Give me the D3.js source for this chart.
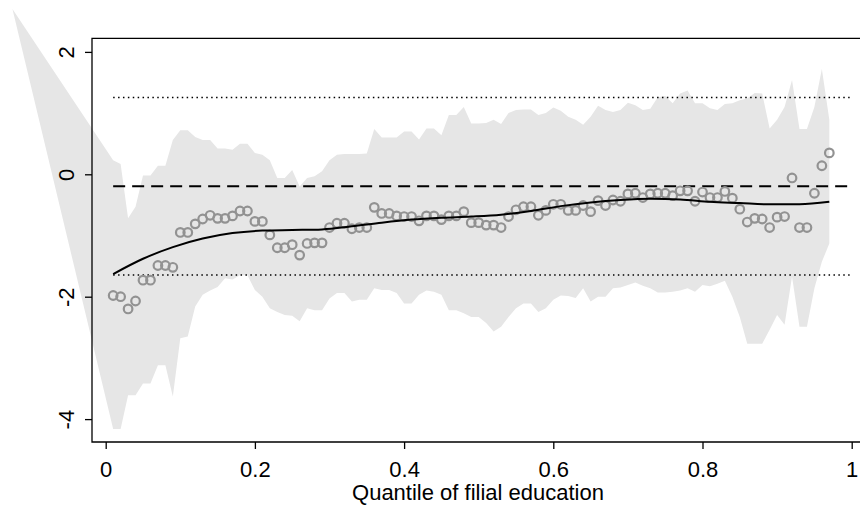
<!DOCTYPE html>
<html>
<head>
<meta charset="utf-8">
<script src="https://cdn.jsdelivr.net/npm/d3@7"></script>
<style>
  html, body { margin: 0; padding: 0; background: #fff; overflow: hidden; }
  svg { display: block; }
  text { font-family: "Liberation Sans", Arial, Helvetica, sans-serif; fill: #000; }
</style>
</head>
<body>
<script>
// Quantile grid of filial education
const quantiles = [
  0.01,0.02,0.03,0.04,0.05,0.06,0.07,0.08,0.09,0.10,
  0.11,0.12,0.13,0.14,0.15,0.16,0.17,0.18,0.19,0.20,
  0.21,0.22,0.23,0.24,0.25,0.26,0.27,0.28,0.29,0.30,
  0.31,0.32,0.33,0.34,0.35,0.36,0.37,0.38,0.39,0.40,
  0.41,0.42,0.43,0.44,0.45,0.46,0.47,0.48,0.49,0.50,
  0.51,0.52,0.53,0.54,0.55,0.56,0.57,0.58,0.59,0.60,
  0.61,0.62,0.63,0.64,0.65,0.66,0.67,0.68,0.69,0.70,
  0.71,0.72,0.73,0.74,0.75,0.76,0.77,0.78,0.79,0.80,
  0.81,0.82,0.83,0.84,0.85,0.86,0.87,0.88,0.89,0.90,
  0.91,0.92,0.93,0.94,0.95,0.96,0.97
];

// Quantile regression coefficient at each quantile
const coefficient = [
  -1.98,-2.00,-2.20,-2.07,-1.73,-1.73,-1.49,-1.49,-1.52,-0.95,
  -0.95,-0.81,-0.73,-0.67,-0.72,-0.72,-0.68,-0.60,-0.60,-0.77,
  -0.77,-0.99,-1.20,-1.20,-1.15,-1.32,-1.13,-1.12,-1.12,-0.87,
  -0.80,-0.80,-0.89,-0.87,-0.87,-0.54,-0.64,-0.64,-0.68,-0.69,
  -0.69,-0.76,-0.68,-0.68,-0.74,-0.68,-0.68,-0.61,-0.79,-0.79,
  -0.83,-0.83,-0.87,-0.69,-0.58,-0.53,-0.53,-0.67,-0.59,-0.49,
  -0.49,-0.59,-0.59,-0.51,-0.61,-0.43,-0.51,-0.42,-0.44,-0.32,
  -0.31,-0.38,-0.32,-0.31,-0.31,-0.35,-0.27,-0.27,-0.44,-0.29,
  -0.38,-0.38,-0.28,-0.39,-0.57,-0.78,-0.72,-0.73,-0.87,-0.70,
  -0.69,-0.06,-0.87,-0.87,-0.31,0.14,0.35
];

// Confidence band, upper bound
const ciUpper = [
  0.23,0.17,-0.72,-0.53,-0.02,-0.02,0.14,0.14,0.56,0.72,
  0.72,0.61,0.56,0.56,0.42,0.42,0.40,0.50,0.50,0.35,
  0.32,0.23,-0.06,-0.06,0.07,-0.20,-0.06,-0.03,0.05,0.23,
  0.32,0.33,0.33,0.33,0.34,0.74,0.60,0.60,0.60,0.70,
  0.70,0.57,0.75,0.75,0.64,0.97,0.97,1.10,0.83,0.83,
  0.84,0.89,0.82,1.00,1.05,1.06,1.06,0.97,1.00,1.09,
  1.04,0.94,0.89,0.81,0.94,1.12,1.05,1.02,1.05,1.17,
  1.13,1.05,1.07,1.26,1.28,1.16,1.32,1.37,1.16,1.16,
  1.08,1.05,1.15,1.16,1.21,1.24,1.33,1.32,0.75,0.89,
  1.10,1.54,0.74,0.74,1.10,1.72,0.89
];

// Confidence band, lower bound
const ciLower = [
  -4.16,-4.16,-3.61,-3.61,-3.42,-3.42,-3.12,-3.12,-3.63,-2.68,
  -2.65,-2.16,-1.97,-1.90,-1.84,-1.70,-1.72,-1.65,-1.65,-1.89,
  -2.00,-2.19,-2.25,-2.30,-2.31,-2.40,-2.19,-2.22,-2.22,-2.03,
  -1.94,-1.94,-2.08,-2.05,-2.05,-1.86,-1.89,-1.89,-1.94,-2.11,
  -2.11,-1.97,-1.90,-1.92,-1.97,-2.22,-2.22,-2.27,-2.33,-2.33,
  -2.43,-2.57,-2.49,-2.33,-2.19,-2.11,-2.11,-2.25,-2.19,-2.05,
  -1.98,-1.99,-2.02,-1.86,-2.08,-2.00,-2.00,-1.86,-1.85,-1.81,
  -1.77,-1.82,-1.86,-1.93,-1.93,-1.92,-1.90,-1.86,-1.92,-1.81,
  -1.83,-1.79,-1.74,-2.00,-2.33,-2.77,-2.77,-2.77,-2.54,-2.30,
  -2.46,-1.67,-2.49,-2.49,-1.86,-1.43,-1.13
];

// Extra vertex that opens the band polygon
const bandStart = [-0.125, 2.70];

// Smoothed coefficient curve
const smoothQ = [0.01,0.05,0.09,0.13,0.17,0.21,0.25,0.29,0.33,0.37,0.41,0.45,0.49,
                 0.53,0.57,0.61,0.65,0.69,0.73,0.77,0.81,0.85,0.89,0.93,0.97];
const smoothV = [-1.63,-1.38,-1.19,-1.05,-0.96,-0.92,-0.91,-0.90,-0.85,-0.79,-0.74,-0.71,-0.69,
                 -0.66,-0.60,-0.52,-0.46,-0.42,-0.40,-0.41,-0.45,-0.47,-0.49,-0.49,-0.45];

// OLS estimate and its confidence limits
const olsLines = [-0.195, 1.255, -1.645];
const olsSpan = [0.01, 1.0];

// Axis ticks
const xTicks = [0, 0.2, 0.4, 0.6, 0.8, 1];
const xTickLabels = ["0", "0.2", "0.4", "0.6", "0.8", "1"];
const yTicks = [-4, -2, 0, 2];
const yTickLabels = ["-4", "-2", "0", "2"];
const xTitle = "Quantile of filial education";

const W = 860, H = 505;
const plot = { left: 92, right: 864, top: 38.3, bottom: 442 };
const fontSize = "22px";

const svg = d3.select("body").append("svg").attr("width", W).attr("height", H);

const x = d3.scaleLinear().domain([0, 1]).range([105.7, 851.7]);
const y = d3.scaleLinear().domain([-4, 2]).range([419.1, 51.9]);

// Confidence band
const bandPts = [bandStart]
  .concat(quantiles.map((q, i) => [q, ciUpper[i]]))
  .concat(quantiles.map((q, i) => [q, ciLower[i]]).reverse());
svg.append("path")
  .attr("d", d3.line().x(d => x(d[0])).y(d => y(d[1]))(bandPts) + "Z")
  .attr("fill", "#e6e6e6")
  .attr("stroke", "none");

// OLS reference lines
olsLines.forEach((v, i) => {
  svg.append("line")
    .attr("x1", x(olsSpan[0])).attr("x2", x(olsSpan[1]))
    .attr("y1", y(v)).attr("y2", y(v))
    .attr("stroke", "#000")
    .attr("stroke-width", i === 0 ? 2 : 1.5)
    .attr("stroke-dasharray", i === 0 ? "12,7" : "1.5,3.4");
});

// Coefficient points
svg.append("g").selectAll("circle")
  .data(quantiles)
  .join("circle")
  .attr("cx", d => x(d))
  .attr("cy", (d, i) => y(coefficient[i]))
  .attr("r", 4.3)
  .attr("fill", "none")
  .attr("stroke", "#929292")
  .attr("stroke-width", 2.2);

// Smoothed curve
svg.append("path")
  .attr("d", d3.line().x((d, i) => x(d)).y((d, i) => y(smoothV[i])).curve(d3.curveMonotoneX)(smoothQ))
  .attr("fill", "none")
  .attr("stroke", "#000")
  .attr("stroke-width", 2);

// Plot frame (left, top and bottom edges; the right edge lies past the canvas)
const frame = svg.append("g").attr("stroke", "#000").attr("stroke-width", 1.3).attr("fill", "none");
frame.append("path")
  .attr("d", `M${W + 2},${plot.top}H${plot.left}V${plot.bottom}H${W + 2}`);

// Y axis
const gy = svg.append("g")
  .attr("transform", `translate(${plot.left},0)`)
  .call(d3.axisLeft(y).tickValues(yTicks).tickSize(7).tickFormat((d, i) => yTickLabels[i]));
gy.select(".domain").remove();
gy.selectAll(".tick line").attr("stroke", "#000").attr("stroke-width", 1.3);
gy.selectAll(".tick text")
  .attr("transform", "rotate(-90)")
  .attr("x", 0).attr("y", -25.5).attr("dy", "0.36em")
  .attr("text-anchor", "middle")
  .style("font-size", fontSize)
  .style("font-family", "'Liberation Sans', Arial, sans-serif");

// X axis
const gx = svg.append("g")
  .attr("transform", `translate(0,${plot.bottom})`)
  .call(d3.axisBottom(x).tickValues(xTicks).tickSize(7).tickFormat((d, i) => xTickLabels[i]));
gx.select(".domain").remove();
gx.selectAll(".tick line").attr("stroke", "#000").attr("stroke-width", 1.3);
gx.selectAll(".tick text")
  .attr("y", 34.5).attr("dy", "0")
  .style("font-size", fontSize)
  .style("font-family", "'Liberation Sans', Arial, sans-serif");

// Axis title
svg.append("text")
  .attr("x", (plot.left + plot.right) / 2)
  .attr("y", 500)
  .attr("text-anchor", "middle")
  .style("font-size", fontSize)
  .text(xTitle);
</script>
</body>
</html>
